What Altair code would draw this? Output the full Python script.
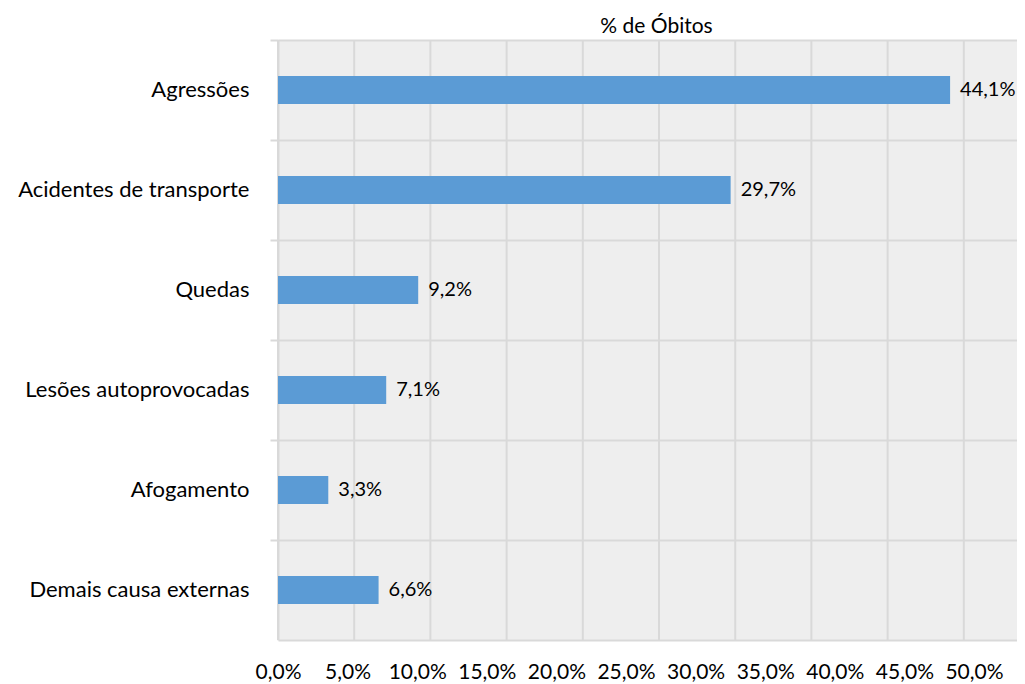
import altair as alt
import pandas as pd

categories = [
    "Agressões",
    "Acidentes de transporte",
    "Quedas",
    "Lesões autoprovocadas",
    "Afogamento",
    "Demais causa externas",
]
values = [44.1, 29.7, 9.2, 7.1, 3.3, 6.6]
tick_labels_values = [0, 5, 10, 15, 20, 25, 30, 35, 40, 45, 50]
grid_values = [0, 5, 10, 15, 20, 25, 30, 35, 40, 45]

df = pd.DataFrame({"causa": categories, "pct": values})
ticks_df = pd.DataFrame({"t": tick_labels_values})
grid_df = pd.DataFrame({"g": grid_values})

FONT = "Lato"
GRID = "#d9d9d9"
BAR = "#5b9bd5"
bar_scale = alt.Scale(domain=[0, 48.49], nice=False, zero=True)

y_enc = alt.Y(
    "causa:N",
    sort=categories,
    title=None,
    scale=alt.Scale(paddingInner=0, paddingOuter=0),
    axis=alt.Axis(
        bandPosition=0,
        grid=True,
        gridColor=GRID,
        gridWidth=2,
        domainColor=GRID,
        domainWidth=2,
        tickColor=GRID,
        tickWidth=2,
        tickSize=8,
        labelFont=FONT,
        labelFontSize=22,
        labelColor="black",
        labelPadding=21,
        labelLimit=400,
    ),
)

vgrid = alt.Chart(grid_df).mark_rule(color=GRID, strokeWidth=2).encode(
    x=alt.X("g:Q", scale=bar_scale, axis=None),
)

bars = alt.Chart(df).mark_bar(color=BAR, size=28).encode(
    x=alt.X("pct:Q", scale=bar_scale, title=None, axis=None),
    y=y_enc,
)

text = (
    alt.Chart(df)
    .transform_calculate(lbl="replace(format(datum.pct, '.1f'), '.', ',') + '%'")
    .mark_text(align="left", baseline="middle", dx=10, font=FONT, fontSize=20, color="black")
    .encode(
        x=alt.X("pct:Q", scale=bar_scale, axis=None),
        y=alt.Y("causa:N", sort=categories),
        text="lbl:N",
    )
)

label_axis = alt.Chart(ticks_df).mark_point(opacity=0).encode(
    x=alt.X(
        "t:Q",
        scale=alt.Scale(domain=[0, 53.09], nice=False, zero=True),
        title=None,
        axis=alt.Axis(
            values=tick_labels_values,
            orient="bottom",
            labelExpr="replace(format(datum.value, '.1f'), '.', ',') + '%'",
            grid=False,
            ticks=False,
            tickSize=0,
            domain=True,
            domainColor=GRID,
            domainWidth=2,
            labelFont=FONT,
            labelFontSize=21,
            labelColor="black",
            labelBaseline="alphabetic",
            labelPadding=38,
            labelFlush=False,
            labelOverlap=False,
        ),
    ),
    y=alt.value(300),
)

chart = (
    alt.layer(vgrid, bars, text, label_axis)
    .resolve_scale(x="independent")
    .properties(
        width=739,
        height=600,
        autosize=alt.AutoSizeParams(type="none"),
        padding={"left": 270, "top": 32, "right": 0, "bottom": 44},
        background="white",
        title=alt.Title(
            "% de Óbitos",
            font=FONT,
            fontSize=21,
            fontWeight="normal",
            color="black",
            anchor="middle",
            frame="group",
            baseline="alphabetic",
            offset=11,
            dx=9,
            dy=26,
        ),
    )
    .configure_view(stroke=None, fill="#eeeeee")
)

chart.save("out.html", embed_options={"renderer": "svg", "actions": False})
